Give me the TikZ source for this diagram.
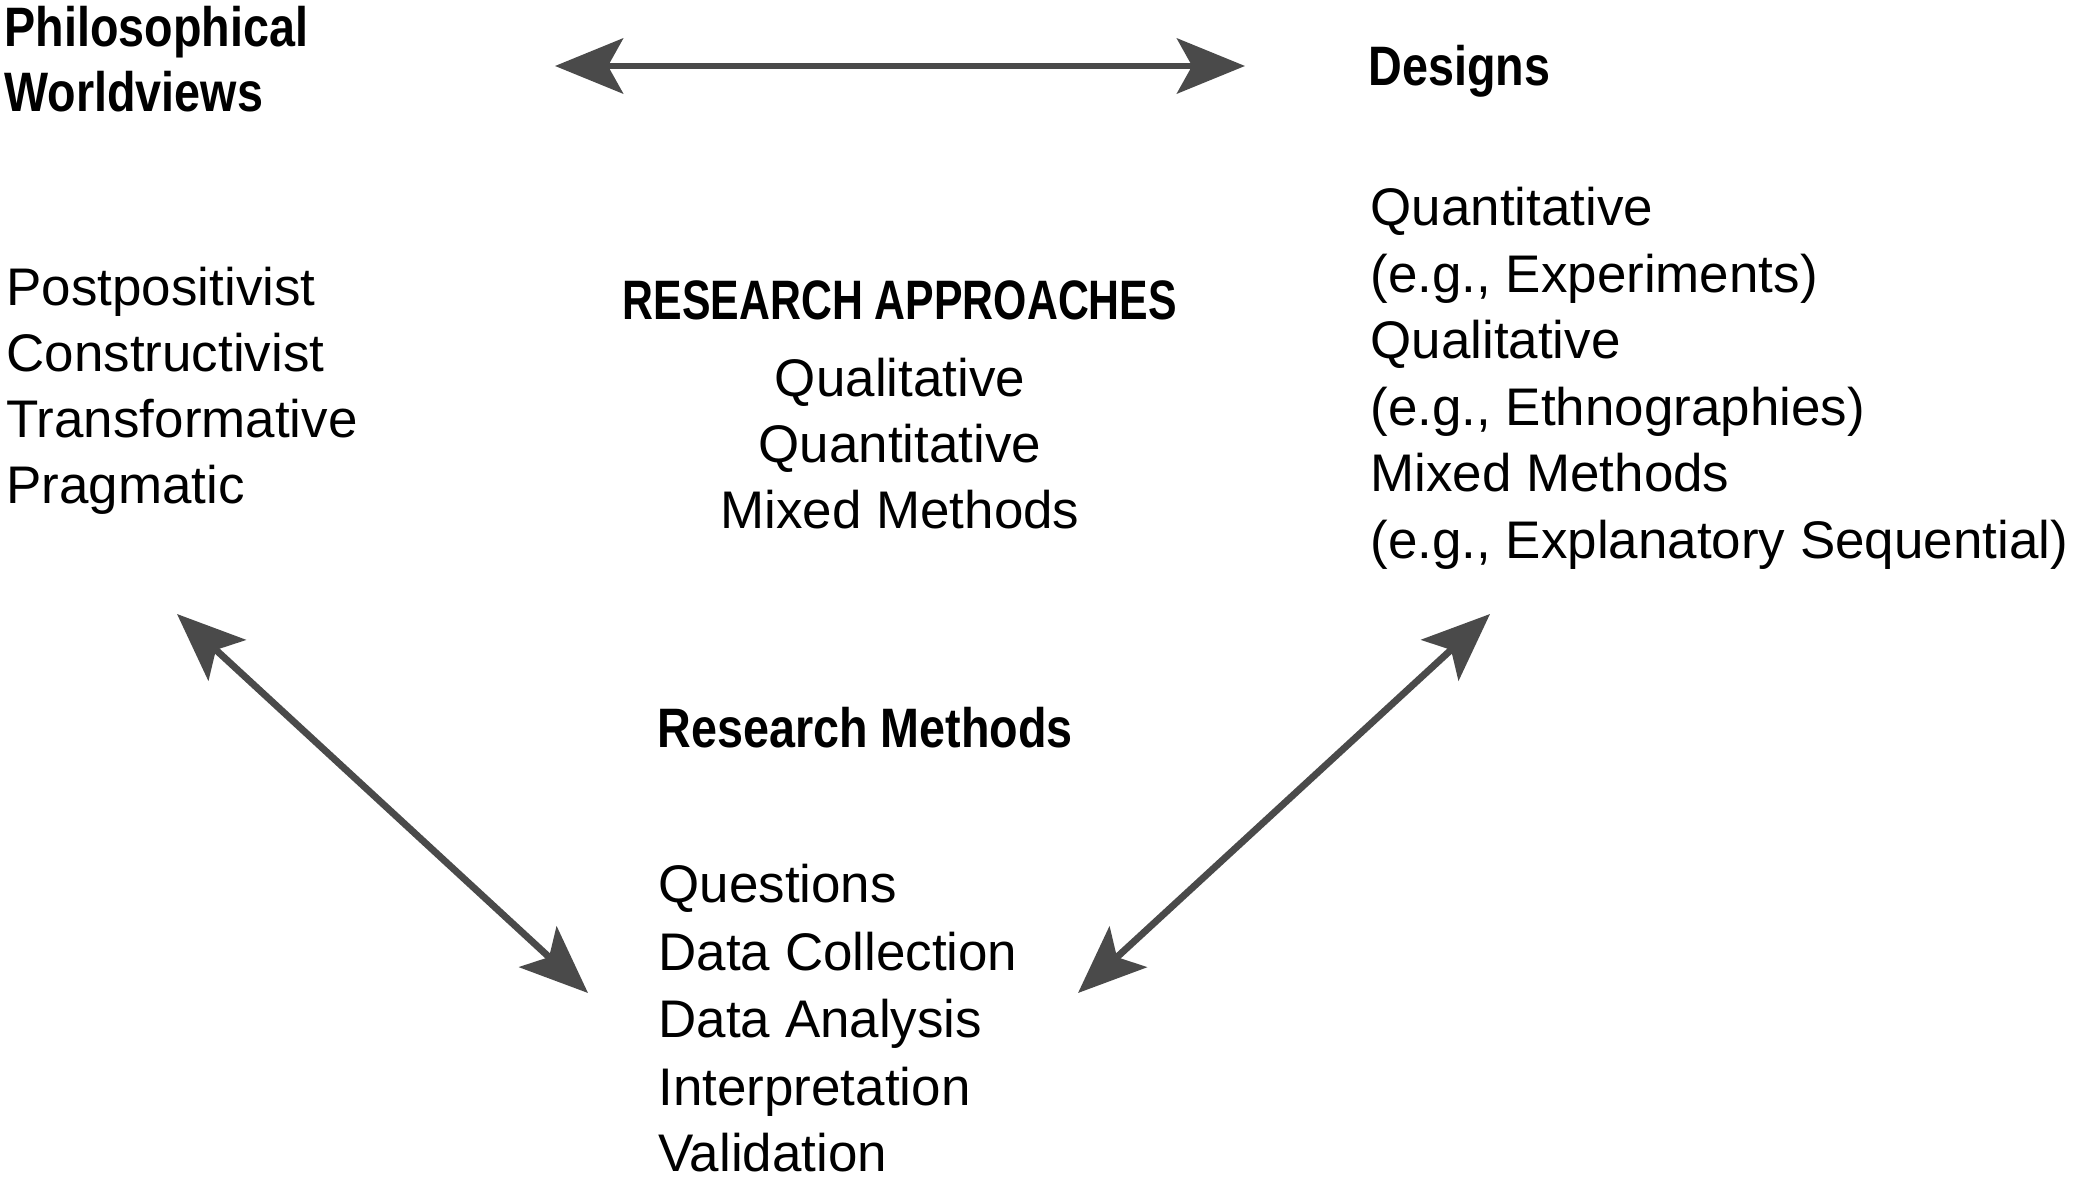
\documentclass[tikz,border=0pt]{standalone}
\usepackage{fontspec}
\setmainfont{Liberation Sans}
\newfontfamily\hdfont[FakeStretch=0.84]{Liberation Sans}
\newfontfamily\capfont[FakeStretch=0.77]{Liberation Sans}
\usetikzlibrary{arrows.meta}
\definecolor{arrowgray}{HTML}{4A4A4A}
\begin{document}
\begin{tikzpicture}[x=0.37783pt,y=-0.37783pt,
  txt/.style={anchor=base west,inner sep=0pt,font=\fontsize{20}{24}\selectfont},
  ctr/.style={anchor=base,inner sep=0pt,font=\fontsize{20}{24}\selectfont},
  hd/.style={anchor=base west,inner sep=0pt,font=\fontsize{21}{24}\hdfont\bfseries},
  caps/.style={anchor=base,inner sep=0pt,font=\fontsize{21}{24}\capfont\bfseries},
  link/.style={draw=arrowgray,line width=2.6pt,
    {Stealth[length=25.7pt,width=20.8pt,inset=5.7pt]}-{Stealth[length=25.7pt,width=20.8pt,inset=5.7pt]}}]
\useasboundingbox (0,0) rectangle (2075,1183);
% headings
\node[hd] (ph1) at (4,47) {Philosophical};
\node[hd] (ph2) at (4,112) {Worldviews};
\node[hd] (des) at (1368,86) {Designs};
\node[hd] (rm) at (657,748) {Research Methods};
\node[caps] (ra) at (900,320) {RESEARCH APPROACHES};
% worldviews
\node[txt] (w1) at (6,306) {Postpositivist};
\node[txt] (w2) at (6,372) {Constructivist};
\node[txt] (w3) at (6,438) {Transformative};
\node[txt] (w4) at (6,504) {Pragmatic};
% approaches
\node[ctr] (a1) at (900,397) {Qualitative};
\node[ctr] (a2) at (900,463) {Quantitative};
\node[ctr] (a3) at (900,529) {Mixed Methods};
% designs
\node[txt] (d1) at (1370,226) {Quantitative};
\node[txt] (d2) at (1370,293) {(e.g., Experiments)};
\node[txt] (d3) at (1370,359) {Qualitative};
\node[txt] (d4) at (1370,426) {(e.g., Ethnographies)};
\node[txt] (d5) at (1370,492) {Mixed Methods};
\node[txt] (d6) at (1370,559) {(e.g., Explanatory Sequential)};
% methods
\node[txt] (m1) at (658,902) {Questions};
\node[txt] (m2) at (658,970) {Data Collection};
\node[txt] (m3) at (658,1037) {Data Analysis};
\node[txt] (m4) at (658,1105) {Interpretation};
\node[txt] (m5) at (658,1171) {Validation};
% arrow ends
\coordinate (tl) at (555,66);
\coordinate (tr) at (1245,66);
\coordinate (lt) at (177,614);
\coordinate (lb) at (588,993);
\coordinate (rt) at (1490,614);
\coordinate (rb) at (1078,993);
\draw[link] (tl) -- (tr);
\draw[link] (lt) -- (lb);
\draw[link] (rt) -- (rb);
\end{tikzpicture}
\end{document}
